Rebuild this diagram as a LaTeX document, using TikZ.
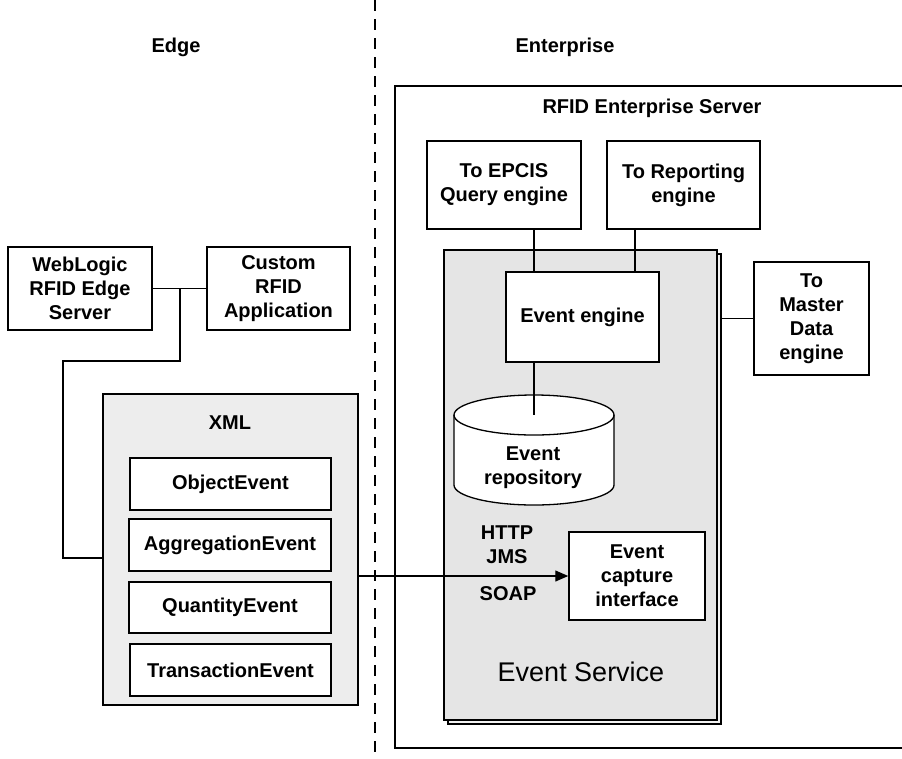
\documentclass[tikz,border=0pt]{standalone}
\usepackage{fontspec}
\setmainfont{Liberation Sans}
\usetikzlibrary{arrows.meta}

\newcommand{\boxlbl}{\bfseries\fontsize{20}{24}\selectfont}
\newcommand{\bigLbl}{\fontsize{27}{30}\selectfont}

\begin{document}
\begin{tikzpicture}[x=1pt,y=-1pt,
  box/.style={draw, line width=1.5pt, fill=white, inner sep=0pt, align=center, font=\boxlbl},
  panel/.style={draw, line width=1.5pt, inner sep=0pt},
  wire/.style={line width=1.3pt},
  txt/.style={font=\boxlbl, inner sep=0pt, align=center}]

\useasboundingbox (0,0) rectangle (902,758);

% Edge / Enterprise divider
\coordinate (divtop) at (375,0);
\coordinate (divbot) at (375,758);
\draw[line width=1.8pt, dash pattern=on 11pt off 8pt] (divtop) -- (divbot);

\node[txt] (edge) at (176,47) {Edge};
\node[txt] (ent) at (565,47) {Enterprise};

% ---------- Edge side ----------
\node[box, minimum width=144pt, minimum height=83pt] (webl) at (80,288.5) {WebLogic\\RFID Edge\\Server};
\node[box, minimum width=143pt, minimum height=83pt] (cust) at (278.5,288.5) {Custom\\RFID\\Application};

\node[panel, fill=black!7, minimum width=255pt, minimum height=311pt] (xml) at (230.5,549.5) {};
\node[txt] (xmllbl) at (230,423) {XML};
\node[box, minimum width=201pt, minimum height=52pt] (obj) at (230.5,484) {ObjectEvent};
\node[box, minimum width=202pt, minimum height=52pt] (agg) at (230,545) {AggregationEvent};
\node[box, minimum width=202pt, minimum height=51pt] (qty) at (230,607.5) {QuantityEvent};
\node[box, minimum width=201pt, minimum height=52pt] (txn) at (230.5,670) {TransactionEvent};

% edge server / application joined to the XML events
\coordinate (j1) at (180,288.5);
\coordinate (b1) at (180,361);
\coordinate (b2) at (63,361);
\coordinate (b3) at (63,558);
\draw[wire] (webl.east) -- (cust.west);
\draw[wire] (j1) -- (b1) -- (b2) -- (b3) -- (b3 -| xml.west);

% ---------- Enterprise side ----------
\coordinate (e1) at (905,86);
\coordinate (e2) at (395,86);
\coordinate (e3) at (395,748);
\coordinate (e4) at (905,748);
\draw[line width=1.5pt] (e1) -- (e2) -- (e3) -- (e4);
\node[txt] (ers) at (652,108) {RFID Enterprise Server};

\node[box, minimum width=154pt, minimum height=88pt] (epcis) at (504,185) {To EPCIS\\Query engine};
\node[box, minimum width=153pt, minimum height=88pt] (rep) at (683.5,185) {To Reporting\\engine};

% Event Service panel with its raised edge
\node[panel, fill=black!5, minimum width=273pt, minimum height=470pt] (svcsh) at (584.5,489) {};
\node[panel, fill=black!10, minimum width=273pt, minimum height=470pt] (svc) at (580.5,485) {};
\node[font=\bigLbl, inner sep=0pt] (svclbl) at (581,672) {Event Service};

\node[box, minimum width=153pt, minimum height=90pt] (engine) at (582.5,317) {Event engine};
\node[box, minimum width=115pt, minimum height=113pt] (master) at (811.5,318.5) {To\\Master\\Data\\engine};

% Event repository
\coordinate (repotop) at (534,415);
\draw[line width=1.3pt, fill=white] (454,415) -- (454,485)
  arc[start angle=180, end angle=0, x radius=80, y radius=20] -- (614,415)
  arc[start angle=0, end angle=-180, x radius=80, y radius=20] -- cycle;
\draw[line width=1.3pt] (454,415) arc[start angle=180, end angle=0, x radius=80, y radius=20];
\node[txt] (repo) at (533,468) {Event\\repository};

\node[box, minimum width=136pt, minimum height=88pt] (cap) at (637,576) {Event\\capture\\interface};

\node[txt] (http) at (507,533) {HTTP};
\node[txt] (jms) at (507,557) {JMS};
\node[txt] (soap) at (508,594) {SOAP};

% connectors
\draw[wire] ([xshift=30pt]epcis.south) -- ([xshift=30pt]epcis.south |- engine.north);
\draw[wire] ([xshift=-48.5pt]rep.south) -- ([xshift=-48.5pt]rep.south |- engine.north);
\draw[wire] (engine.south -| repotop) -- (repotop);
\draw[wire] (master.west -| svcsh.east) -- (master.west);
\draw[wire, -{Triangle[length=13pt,width=11pt]}] (cap.west -| xml.east) -- (cap.west);

\end{tikzpicture}
\end{document}
